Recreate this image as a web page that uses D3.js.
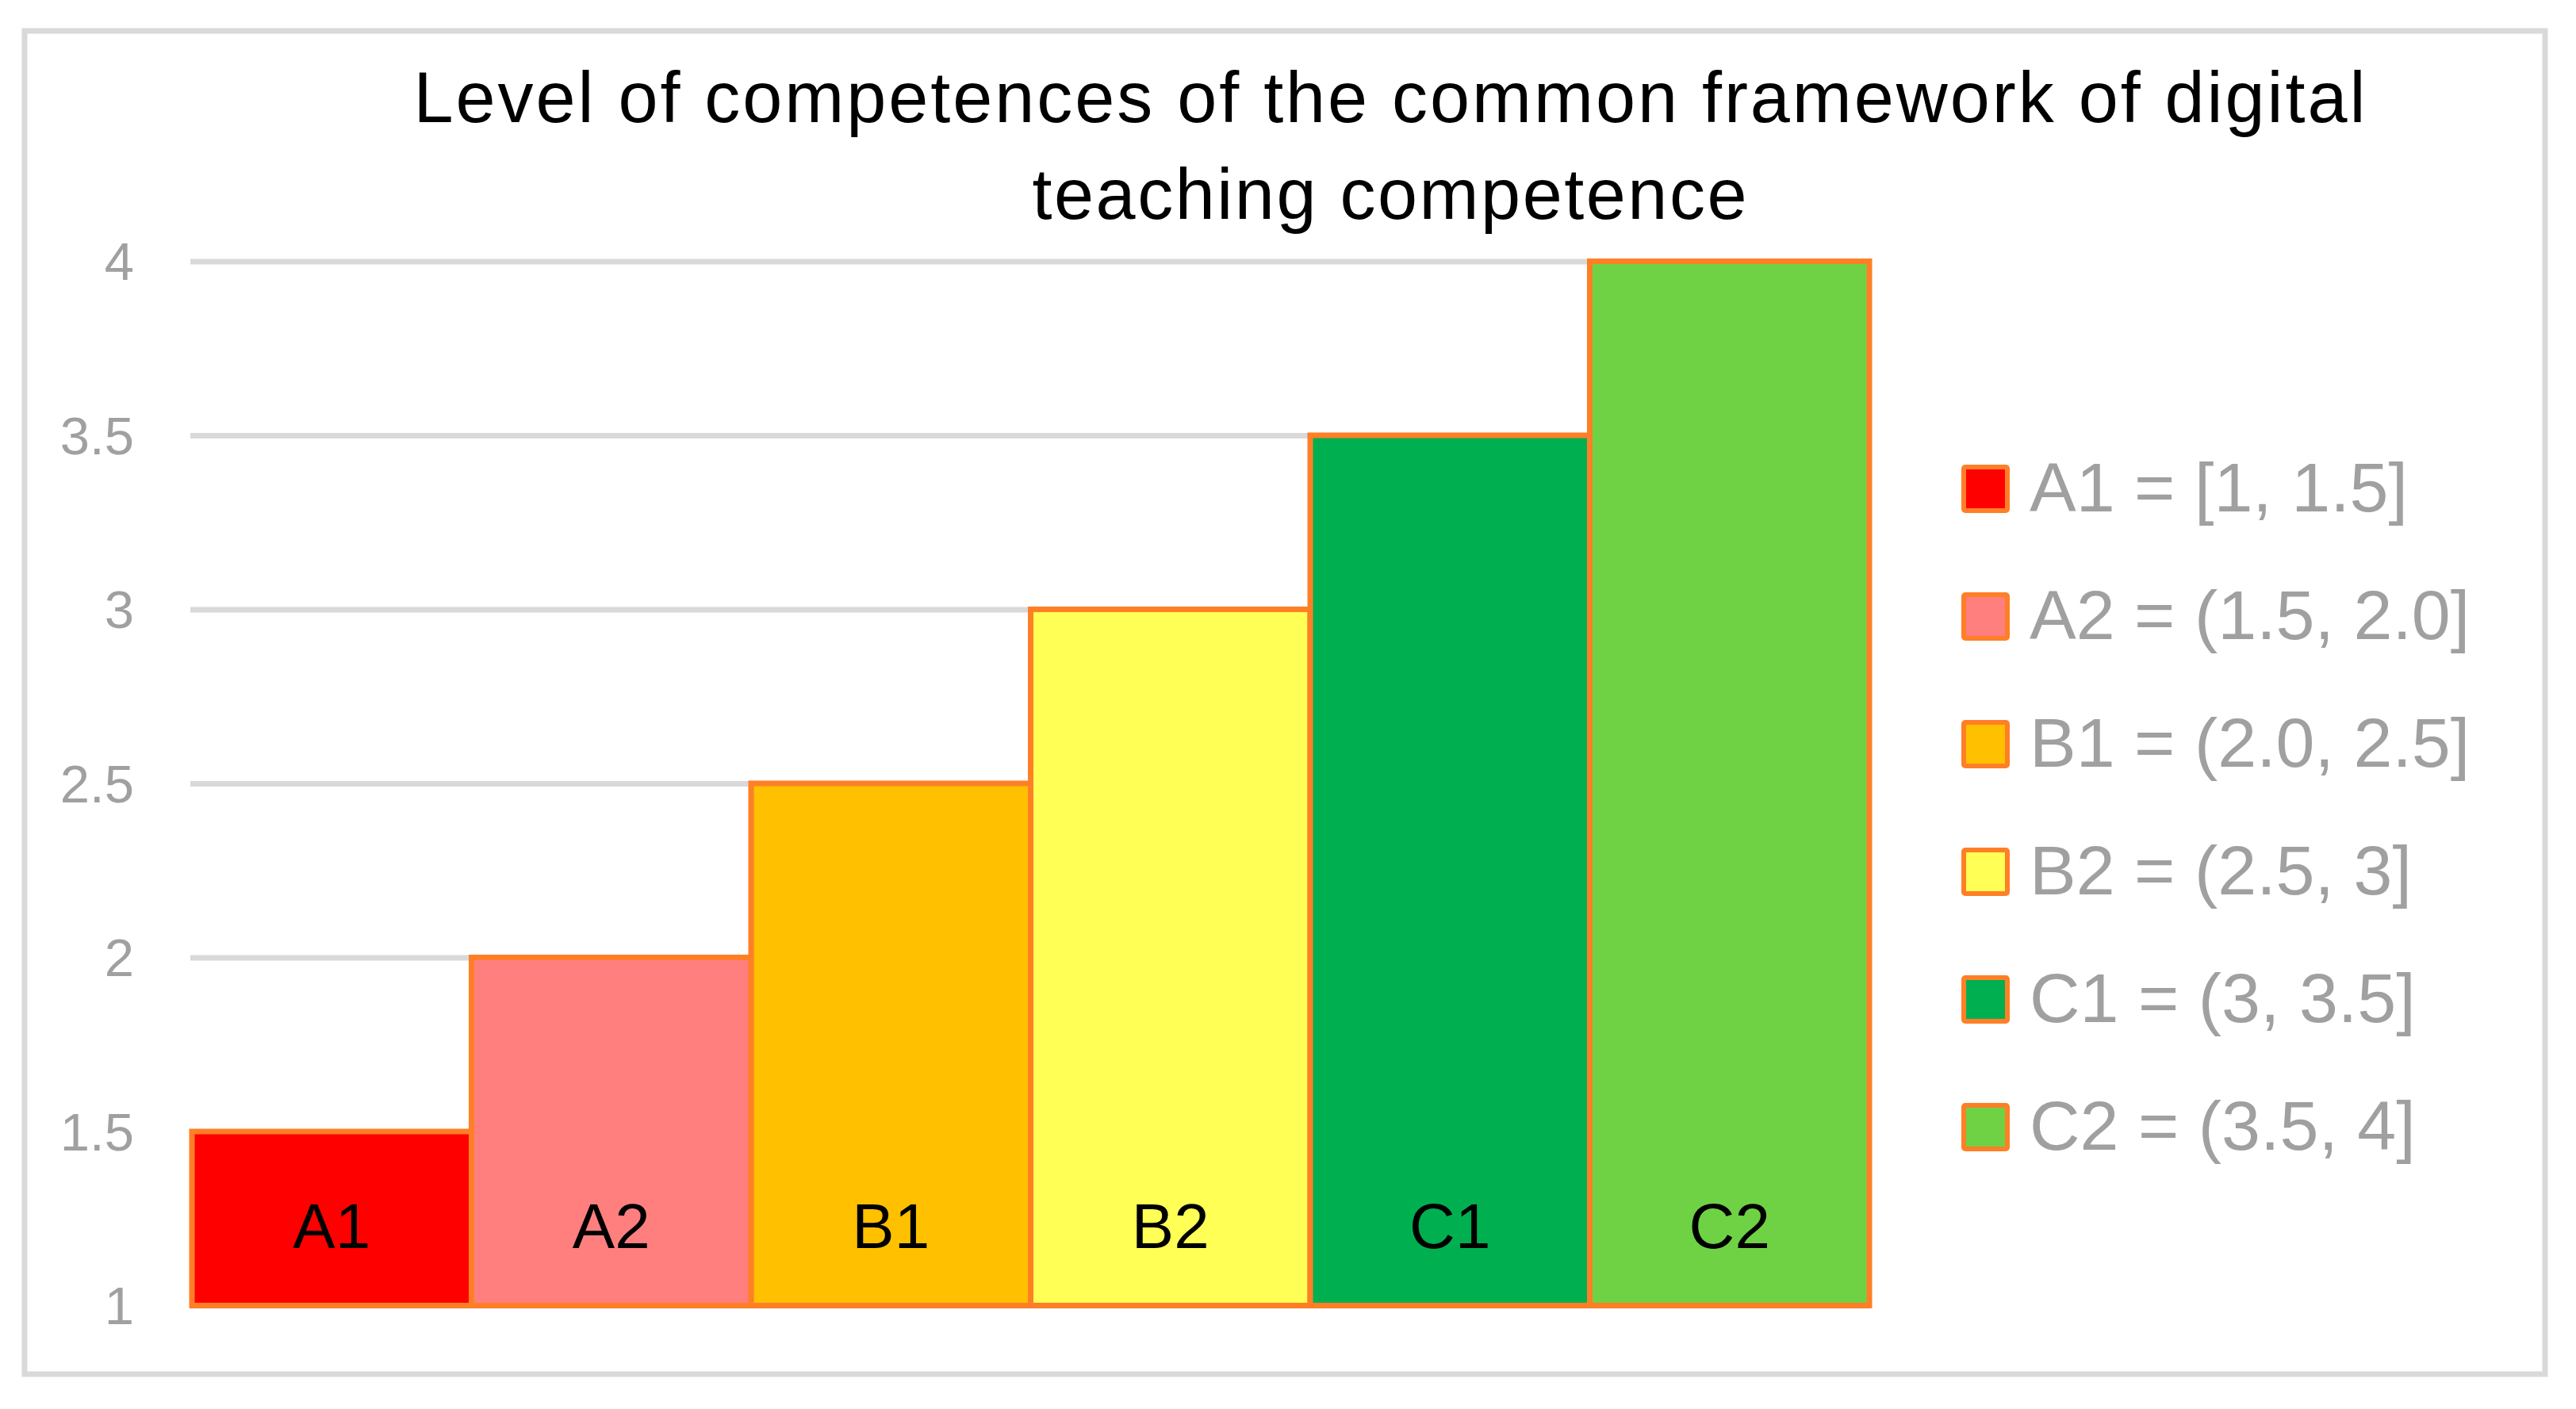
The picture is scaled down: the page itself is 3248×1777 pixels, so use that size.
<!DOCTYPE html>
<html>
<head>
<meta charset="utf-8">
<script src="https://cdn.jsdelivr.net/npm/d3@7"></script>
<style>
  html, body { margin: 0; padding: 0; background: #ffffff; }
  svg { display: block; }
  text { font-family: "Liberation Sans", Arial, sans-serif; }
</style>
</head>
<body>
<svg id="chart" width="3248" height="1777"></svg>
<script>
// ---- data ----
const categories = ["A1", "A2", "B1", "B2", "C1", "C2"];
const values = [1.5, 2.0, 2.5, 3.0, 3.5, 4.0];
const colors = ["#FF0000", "#FF7F7F", "#FFC000", "#FFFF55", "#00B050", "#6FD244"];
const legendLabels = ["A1 = [1, 1.5]", "A2 = (1.5, 2.0]", "B1 = (2.0, 2.5]", "B2 = (2.5, 3]", "C1 = (3, 3.5]", "C2 = (3.5, 4]"];
const yTicks = [1, 1.5, 2, 2.5, 3, 3.5, 4];
const yTickLabels = ["1", "1.5", "2", "2.5", "3", "3.5", "4"];
const titleLines = ["Level of competences of the common framework of digital", "teaching competence"];

// ---- layout ----
const W = 3248, H = 1777;
const plot = { left: 242, right: 2357, top: 329.5, bottom: 1646.5 };
const stroke = "#FF7F27";
const gridColor = "#D9D9D9";
const tickColor = "#A0A0A0";
const titleWidths = [2461, 901];

const svg = d3.select("#chart");

// outer border
svg.append("rect")
  .attr("x", 31).attr("y", 39)
  .attr("width", 3178).attr("height", 1694)
  .attr("fill", "#ffffff")
  .attr("stroke", gridColor)
  .attr("stroke-width", 7);

// scales
const x = d3.scaleBand().domain(categories).range([plot.left, plot.right]).padding(0);
const y = d3.scaleLinear().domain([1, 4]).range([plot.bottom, plot.top]);

// gridlines + tick labels via axis
const yAxis = d3.axisLeft(y)
  .tickValues(yTicks)
  .tickFormat((d, i) => yTickLabels[i])
  .tickSize(-(plot.right - plot.left + 2))
  .tickPadding(71);

const gAxis = svg.append("g")
  .attr("transform", `translate(${plot.left - 2},0)`)
  .call(yAxis);
gAxis.select(".domain").remove();
gAxis.selectAll(".tick line")
  .attr("stroke", gridColor)
  .attr("stroke-width", 7);
gAxis.selectAll(".tick text")
  .attr("fill", tickColor)
  .attr("font-size", 67)
  .attr("font-family", "Liberation Sans, Arial, sans-serif")
  .attr("dy", null)
  .attr("y", 23);

// bars
const bars = svg.append("g");
bars.selectAll("rect")
  .data(categories)
  .join("rect")
  .attr("x", d => x(d))
  .attr("width", x.bandwidth())
  .attr("y", (d, i) => y(values[i]))
  .attr("height", (d, i) => y(1) - y(values[i]))
  .attr("fill", (d, i) => colors[i])
  .attr("stroke", stroke)
  .attr("stroke-width", 7);

// bar labels
svg.append("g").selectAll("text")
  .data(categories)
  .join("text")
  .attr("x", d => x(d) + x.bandwidth() / 2)
  .attr("y", y(1) - 73)
  .attr("text-anchor", "middle")
  .attr("font-size", 80)
  .attr("fill", "#000000")
  .text(d => d);

// title
svg.append("g").selectAll("text")
  .data(titleLines)
  .join("text")
  .attr("x", 1752)
  .attr("y", (d, i) => 154 + i * 122)
  .attr("text-anchor", "middle")
  .attr("font-size", 90)
  .attr("fill", "#000000")
  .attr("textLength", (d, i) => titleWidths[i])
  .attr("lengthAdjust", "spacing")
  .text(d => d);

// legend
const legend = svg.append("g").attr("transform", "translate(2476,616.5)");
const rows = legend.selectAll("g")
  .data(legendLabels)
  .join("g")
  .attr("transform", (d, i) => `translate(0,${i * 161})`);
rows.append("rect")
  .attr("x", 0).attr("y", -27.5)
  .attr("width", 55).attr("height", 55)
  .attr("fill", (d, i) => colors[i])
  .attr("stroke", stroke)
  .attr("stroke-width", 6)
  .attr("rx", 2);
rows.append("text")
  .attr("x", 83)
  .attr("y", 28.5)
  .attr("font-size", 88)
  .attr("fill", tickColor)
  .text(d => d);
</script>
</body>
</html>
